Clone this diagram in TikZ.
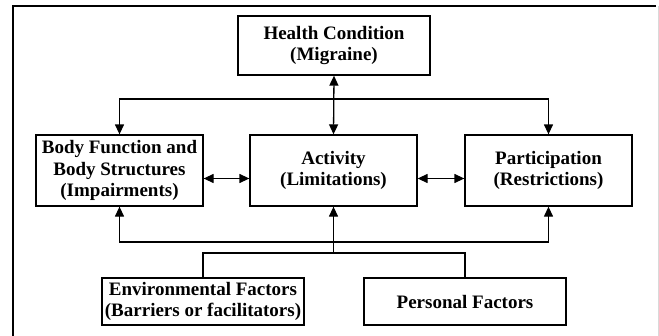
\documentclass[tikz,border=0pt]{standalone}
\usepackage{fontspec}
\setmainfont{Liberation Serif}
\usetikzlibrary{arrows.meta}
\tikzset{
  box/.style={draw,line width=1.3pt,align=center,inner sep=0pt,
    font=\fontsize{19}{21.5}\selectfont\bfseries},
  link/.style={line width=1.3pt,-{Triangle[length=10pt,width=9pt]}},
  twolink/.style={line width=1.3pt,{Triangle[length=10pt,width=9pt]}-{Triangle[length=10pt,width=9pt]}}
}

\begin{document}
\begin{tikzpicture}[x=1pt,y=-1pt]
  \useasboundingbox (0,0) rectangle (659,335);
  % frame
  \draw[line width=1.3pt] (13,340) -- (13,6) -- (656,6);
  \draw[black!15,line width=1pt] (658,6) -- (658,340);

  \node[box,minimum width=192pt,minimum height=59pt] (health) at (334,45.5)
    {Health Condition\\(Migraine)};
  \node[box,minimum width=167pt,minimum height=71pt] (body) at (119.5,170.5)
    {Body Function and\\Body Structures\\(Impairments)};
  \node[box,minimum width=167pt,minimum height=71pt] (act) at (333.5,170.5)
    {Activity\\(Limitations)};
  \node[box,minimum width=167pt,minimum height=71pt] (part) at (548.5,170.5)
    {Participation\\(Restrictions)};
  \node[box,minimum width=202pt,minimum height=47pt] (env) at (203,301.5)
    {Environmental Factors\\(Barriers or facilitators)};
  \node[box,minimum width=202pt,minimum height=47pt] (pers) at (465,301.5)
    {Personal Factors};

  \coordinate (top) at (333.5,99);
  \coordinate (low) at (333.5,242);
  \coordinate (ctx) at (333.5,253);

  \draw[twolink] (health.south) -- (act.north);
  \draw[link] (top) -| (body.north);
  \draw[link] (top) -| (part.north);
  \draw[twolink] ([yshift=-8pt]body.east) -- ([yshift=-8pt]act.west);
  \draw[twolink] ([yshift=-8pt]act.east) -- ([yshift=-8pt]part.west);
  \draw[link] (low) -| (body.south);
  \draw[link] (low) -| (part.south);
  \draw[link] (ctx) -- (act.south);
  \draw[line width=1.3pt] (env.north) |- (ctx) -| (pers.north);
\end{tikzpicture}
\end{document}
